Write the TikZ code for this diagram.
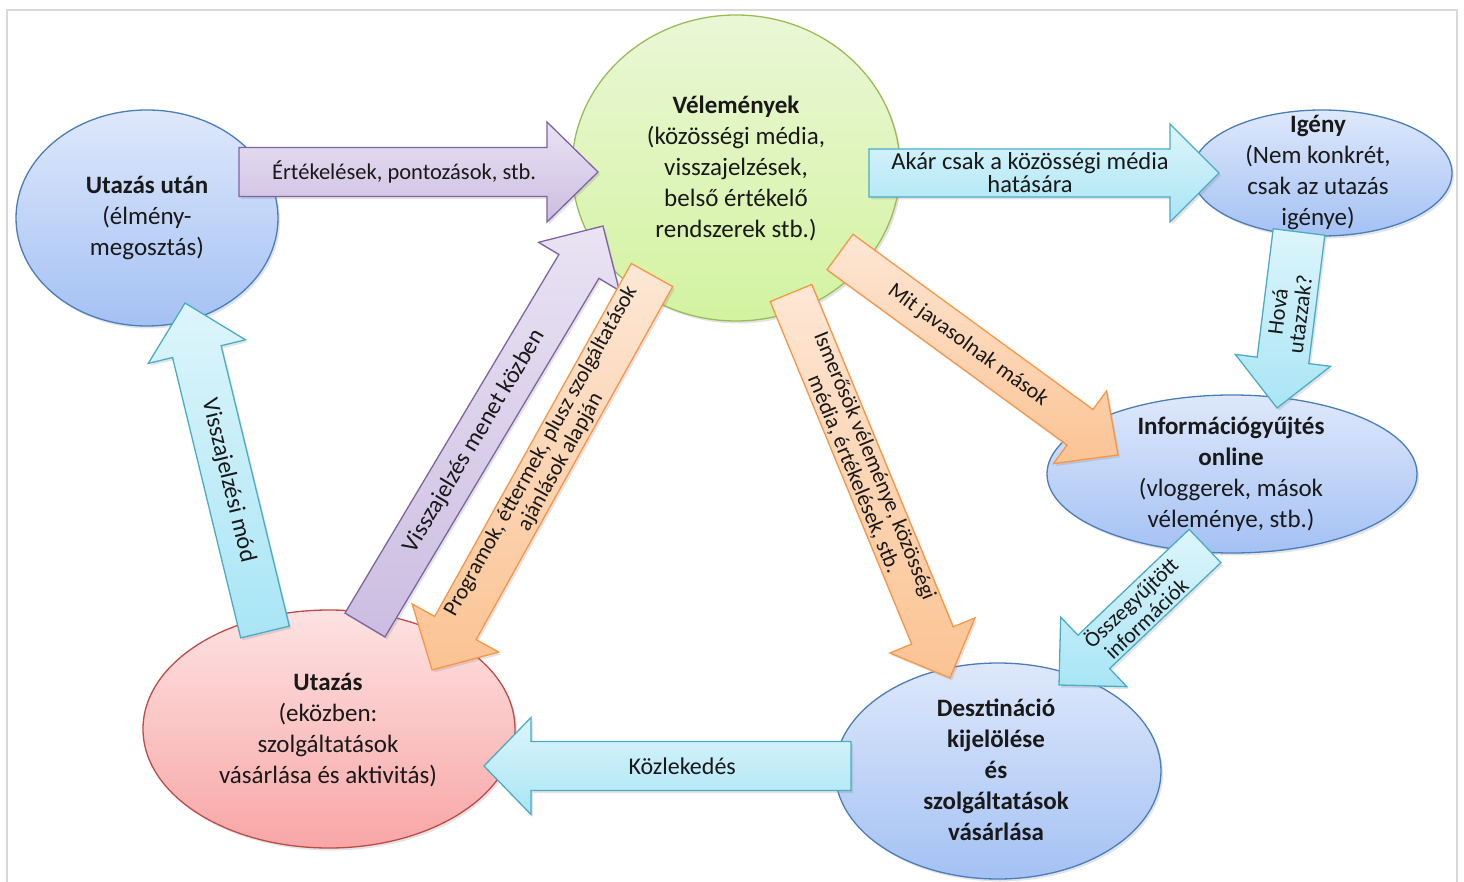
\documentclass[tikz,border=0pt]{standalone}
\usepackage{fontspec}
\setmainfont{Carlito}
\usetikzlibrary{shapes.geometric,shadows,calc}

\definecolor{blueTop}{HTML}{DEE8FB}
\definecolor{blueBot}{HTML}{A4C1F4}
\definecolor{blueEdge}{HTML}{4A7EBB}
\definecolor{greenTop}{HTML}{EAF7D6}
\definecolor{greenBot}{HTML}{D3F3A0}
\definecolor{greenEdge}{HTML}{9BBB59}
\definecolor{redTop}{HTML}{FDE2E2}
\definecolor{redBot}{HTML}{F8A6A6}
\definecolor{redEdge}{HTML}{BE4B48}
\definecolor{cyanTop}{HTML}{DDF5FB}
\definecolor{cyanBot}{HTML}{A9E5F5}
\definecolor{cyanEdge}{HTML}{4BACC6}
\definecolor{purpTop}{HTML}{E9E3F3}
\definecolor{purpBot}{HTML}{CBBDE1}
\definecolor{purpEdge}{HTML}{8064A2}
\definecolor{orTop}{HTML}{FDE7D5}
\definecolor{orBot}{HTML}{FBC393}
\definecolor{orEdge}{HTML}{F79646}
\definecolor{frameGray}{HTML}{D9D9D9}

\tikzset{
  softshadow/.style={drop shadow={opacity=0.22,shadow xshift=2pt,shadow yshift=-2.5pt}},
  bubble/.style={ellipse, line width=1.3pt, inner sep=0pt, softshadow},
  bluebub/.style={bubble, draw=blueEdge, top color=blueTop, bottom color=blueBot},
  greenbub/.style={bubble, draw=greenEdge, top color=greenTop, bottom color=greenBot},
  redbub/.style={bubble, draw=redEdge, top color=redTop, bottom color=redBot},
  bubtext/.style={align=center, inner sep=0pt, font=\fontsize{25}{31}\selectfont, text=black!90},
  arrowlbl/.style={align=center, inner sep=0pt, font=\fontsize{22.5}{22.5}\selectfont, text=black!90},
  blockbase/.style={line width=1.3pt, line join=miter, softshadow},
  cyanarrow/.style={blockbase, draw=cyanEdge, top color=cyanTop, bottom color=cyanBot},
  purparrow/.style={blockbase, draw=purpEdge, top color=purpTop, bottom color=purpBot},
  orarrow/.style={blockbase, draw=orEdge, top color=orTop, bottom color=orBot},
}

% Block arrow from coordinate #2 to tip #3.
% #4 shaft half width, #5 head half width, #6 head length,
% #7 arrow style, #8 label options, #9 label text; #1 label node name.
\def\bafrac{0.46}
\newcommand\blockarrow[9]{%
  \pgfmathanglebetweenpoints{\pgfpointanchor{#2}{center}}{\pgfpointanchor{#3}{center}}%
  \edef\baang{\pgfmathresult}%
  \pgfpointdiff{\pgfpointanchor{#2}{center}}{\pgfpointanchor{#3}{center}}%
  \pgfgetlastxy{\badx}{\bady}%
  \pgfmathveclen{\badx}{\bady}%
  \edef\balen{\pgfmathresult}%
  \pgfmathparse{cos(\baang)<0 ? \baang-180 : \baang}%
  \edef\batxt{\pgfmathresult}%
  \begin{scope}[shift={(#2)}, rotate=\baang]
    \draw[#7] (0,#4) -- ({\balen-#6},#4) -- ({\balen-#6},#5) -- (\balen,0)
      -- ({\balen-#6},-#5) -- ({\balen-#6},-#4) -- (0,-#4) -- cycle;
    \node[arrowlbl, rotate=\batxt, #8] (#1) at ({\bafrac*\balen},0) {#9};
  \end{scope}%
}

\begin{document}
\begin{tikzpicture}[x=1pt,y=-1pt]
\useasboundingbox (0,0) rectangle (1464,882);
\fill[white] (0,0) rectangle (1464,882);
\draw[frameGray, line width=1.2pt] (7,882) -- (7,10) -- (1457,10) -- (1457,882);

% bubbles
\node[bluebub, minimum width=262pt, minimum height=216pt] (after) at (147,218) {};
\node[greenbub, minimum width=328pt, minimum height=306pt] (opin) at (736,168) {};
\node[bluebub, minimum width=260pt, minimum height=126pt] (need) at (1322,173) {};
\node[bluebub, minimum width=370pt, minimum height=158pt] (info) at (1232,474) {};
\node[bluebub, minimum width=326pt, minimum height=216pt] (dest) at (998,771) {};
\node[redbub, minimum width=372pt, minimum height=238pt] (trip) at (329,729) {};

% arrow end points
\coordinate (rateS) at (239,172);  \coordinate (rateE) at (598,172);
\coordinate (mediaS) at (869,173); \coordinate (mediaE) at (1219,173);
\coordinate (whereS) at (1299,232); \coordinate (whereE) at (1277,408);
\coordinate (adviceS) at (840,252); \coordinate (adviceE) at (1118,455);
\coordinate (friendS) at (791,293); \coordinate (friendE) at (950,678);
\coordinate (collS) at (1205,546); \coordinate (collE) at (1059,685);
\coordinate (transS) at (851,766); \coordinate (transE) at (484,766);
\coordinate (fbS) at (265,632); \coordinate (fbE) at (185,303);
\coordinate (liveS) at (365,625); \coordinate (liveE) at (603,226);
\coordinate (progS) at (652,275); \coordinate (progE) at (432,670);

% block arrows
\blockarrow{rateL}{rateS}{rateE}{24.5}{50}{51}{purparrow}{}{Értékelések, pontozások, stb.}
\blockarrow{mediaL}{mediaS}{mediaE}{24}{49}{49}{cyanarrow}{font=\fontsize{24.5}{23}\selectfont}{Akár csak a közösségi média\\hatására}
\blockarrow{whereL}{whereS}{whereE}{26}{48}{48}{cyanarrow}{}{Hová\\utazzak?}
\blockarrow{adviceL}{adviceS}{adviceE}{22}{45}{47}{orarrow}{font=\fontsize{22}{22}\selectfont}{Mit javasolnak mások}
\blockarrow{friendL}{friendS}{friendE}{22.5}{46}{46}{orarrow}{font=\fontsize{22}{22.5}\selectfont}{Ismerősök véleménye, közösségi\\média, értékelések, stb.}
\blockarrow{collL}{collS}{collE}{23}{48}{48}{cyanarrow}{font=\fontsize{22}{22.5}\selectfont}{Összegyűjtött\\információk}
\blockarrow{transL}{transS}{transE}{24.5}{48.5}{47}{cyanarrow}{font=\fontsize{24}{24}\selectfont}{Közlekedés}
\blockarrow{fbL}{fbS}{fbE}{25}{50}{50}{cyanarrow}{font=\fontsize{24}{24}\selectfont}{Visszajelzési mód}
\blockarrow{liveL}{liveS}{liveE}{23.3}{47}{47}{purparrow}{font=\fontsize{24}{24}\selectfont}{Visszajelzés menet közben}
\blockarrow{progL}{progS}{progE}{23.7}{49.5}{48}{orarrow}{font=\fontsize{22}{22.5}\selectfont}{Programok, éttermek, plusz szolgáltatások\\ajánlások alapján}

% bubble texts
\node[bubtext] (afterT) at (after) {\textbf{Utazás után}\\(élmény-\\megosztás)};
\node[bubtext] (opinT) at (opin) {\textbf{Vélemények}\\(közösségi média,\\visszajelzések,\\belső értékelő\\rendszerek stb.)};
\node[bubtext] (needT) at (1318,173) {\textbf{Igény}\\(Nem konkrét,\\csak az utazás\\igénye)};
\node[bubtext] (infoT) at (1231,474) {\textbf{Információgyűjtés}\\\textbf{online}\\(vloggerek, mások\\véleménye, stb.)};
\node[bubtext, font=\fontsize{25}{31}\selectfont\bfseries] (destT) at (996,770) {Desztináció\\kijelölése\\és\\szolgáltatások\\vásárlása};
\node[bubtext] (tripT) at (328,730) {\textbf{Utazás}\\(eközben:\\szolgáltatások\\vásárlása és aktivitás)};
\end{tikzpicture}
\end{document}
